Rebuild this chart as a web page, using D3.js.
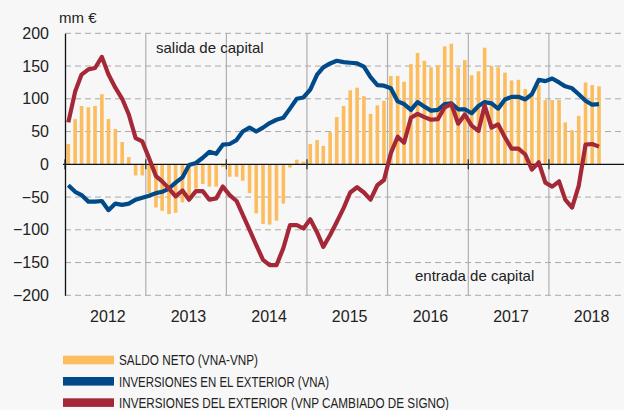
<!DOCTYPE html>
<html>
<head>
<meta charset="utf-8">
<script src="https://cdn.jsdelivr.net/npm/d3@7"></script>
<style>
    body { margin: 0; background: #f7f7f7; }
    svg { display: block; font-family: "Liberation Sans", Arial, sans-serif; }
</style>
</head>
<body>
<div id="chart"></div>
<script>
// Data, mm €, monthly from Jan 2012
const years = [2012, 2013, 2014, 2015, 2016, 2017, 2018];
const yTicks = [200, 150, 100, 50, 0, -50, -100, -150, -200];

const saldoNeto = [
    31, 69, 89, 87, 89, 107, 69, 54, 34, 11, -17, -17,
    -44, -66, -71, -76, -74, -58, -52, -37, -30, -34, -34, -4,
    -19, -19, -25, -44, -75, -91, -92, -86, -60, -5, 7, 4,
    31, 37, 28, 49, 72, 89, 113, 117, 104, 77, 90, 97,
    135, 135, 126, 153, 170, 158, 148, 151, 180, 184, 148, 159,
    136, 142, 178, 150, 148, 140, 128, 129, 115, 105, 121, 98,
    98, 98, 64, 52, 74, 125, 121, 119
];
const vna = [
    -32, -42, -47, -57, -57, -56, -70, -60, -62, -60, -54, -51,
    -48, -44, -42, -37, -28, -20, -1, 2, 10, 19, 16, 30,
    31, 37, 50, 56, 50, 56, 63, 68, 71, 85, 100, 102,
    114, 137, 148, 154, 158, 156, 155, 154, 149, 133, 121, 120,
    116, 96, 92, 83, 95, 88, 82, 83, 92, 93, 84, 84,
    78, 89, 95, 93, 85, 99, 103, 103, 99, 107, 129, 127,
    131, 125, 119, 116, 107, 97, 91, 92
];
const vnp = [
    64, 111, 137, 145, 147, 164, 137, 117, 100, 76, 40, 35,
    9, -18, -26, -37, -49, -40, -54, -41, -41, -54, -52, -34,
    -47, -56, -77, -100, -123, -146, -154, -154, -128, -93, -93, -98,
    -84, -104, -126, -108, -88, -67, -43, -35, -43, -54, -32, -24,
    17, 42, 33, 71, 77, 72, 68, 69, 87, 92, 62, 76,
    59, 51, 90, 56, 61, 41, 24, 24, 15, -8, 3, -28,
    -34, -26, -54, -66, -33, 30, 31, 27
];

const legendLabels = [
    'SALDO NETO (VNA-VNP)',
    'INVERSIONES EN EL EXTERIOR (VNA)',
    'INVERSIONES DEL EXTERIOR  (VNP CAMBIADO DE SIGNO)'
];
const legendColors = ['#fbbd5e', '#004a8a', '#a52838'];
const legendTextWidths = [139, 210, 330];

const width = 624, height = 410;
const margin = {left: 65, right: 622, top: 33.3, bottom: 295.3};

const svg = d3.select('#chart').append('svg')
    .attr('width', width)
    .attr('height', height);

const x = d3.scaleTime()
    .domain([new Date(2012, 0, 1), new Date(2019, 0, 1)])
    .range([margin.left, margin.left + 84 * 6.72]);
const y = d3.scaleLinear().domain([-200, 200]).range([margin.bottom, margin.top]);

const monthMid = i => x(new Date(2012, i, 16));

// dashed grid
svg.append('g')
    .selectAll('line')
    .data(yTicks.filter(d => d !== 0))
    .join('line')
    .attr('x1', margin.left).attr('x2', margin.right)
    .attr('y1', d => y(d)).attr('y2', d => y(d))
    .attr('stroke', '#a8a8a8')
    .attr('stroke-width', 1)
    .attr('stroke-dasharray', '6,4');

// year separators
svg.append('g')
    .selectAll('line')
    .data(years.slice(1))
    .join('line')
    .attr('x1', d => x(new Date(d, 0, 1))).attr('x2', d => x(new Date(d, 0, 1)))
    .attr('y1', margin.top).attr('y2', margin.bottom)
    .attr('stroke', '#b0b0b0')
    .attr('stroke-width', 1.2);

// bars
svg.append('g')
    .selectAll('rect')
    .data(saldoNeto)
    .join('rect')
    .attr('x', (d, i) => monthMid(i) - 1.8)
    .attr('width', 3.6)
    .attr('y', d => y(Math.max(0, d)))
    .attr('height', d => Math.abs(y(d) - y(0)))
    .attr('fill', legendColors[0]);

// zero line + year ticks
svg.append('line')
    .attr('x1', margin.left - 2).attr('x2', width)
    .attr('y1', y(0)).attr('y2', y(0))
    .attr('stroke', '#111').attr('stroke-width', 1.3);
svg.append('g')
    .selectAll('line')
    .data(years)
    .join('line')
    .attr('x1', d => x(new Date(d, 0, 1))).attr('x2', d => x(new Date(d, 0, 1)))
    .attr('y1', y(0) - 5).attr('y2', y(0) + 5)
    .attr('stroke', '#333').attr('stroke-width', 1.3);

// y axis
const yAxis = svg.append('g')
    .attr('transform', `translate(${margin.left},0)`)
    .call(d3.axisLeft(y).tickValues(yTicks).tickSize(0).tickPadding(16));
yAxis.select('.domain').attr('stroke', '#111').attr('stroke-width', 1.3);
yAxis.selectAll('text').attr('font-size', 16).attr('fill', '#222')
    .attr('font-family', '"Liberation Sans", Arial, sans-serif');

// x axis year labels
const xAxis = svg.append('g')
    .attr('transform', `translate(2,${margin.bottom})`)
    .call(d3.axisBottom(x)
        .tickValues(years.map(d => new Date(d, 6, 2)))
        .tickFormat(d3.timeFormat('%Y'))
        .tickSize(0).tickPadding(15));
xAxis.select('.domain').remove();
xAxis.selectAll('text').attr('font-size', 16).attr('fill', '#222')
    .attr('font-family', '"Liberation Sans", Arial, sans-serif');

// lines
const line = d3.line().x((d, i) => monthMid(i)).y(d => y(d));
svg.append('path')
    .datum(vna)
    .attr('d', line)
    .attr('fill', 'none')
    .attr('stroke', legendColors[1])
    .attr('stroke-width', 4.2)
    .attr('stroke-linejoin', 'round');
svg.append('path')
    .datum(vnp)
    .attr('d', line)
    .attr('fill', 'none')
    .attr('stroke', legendColors[2])
    .attr('stroke-width', 4.2)
    .attr('stroke-linejoin', 'round');

// annotations
svg.append('text').attr('x', 59).attr('y', 23).text('mm €')
    .attr('font-size', 15).attr('fill', '#222');
svg.append('text').attr('x', 156).attr('y', 53).text('salida de capital')
    .attr('font-size', 15).attr('fill', '#222');
svg.append('text').attr('x', 415).attr('y', 281).text('entrada de capital')
    .attr('font-size', 15).attr('fill', '#222');

// legend
const legend = svg.append('g')
    .selectAll('g')
    .data(legendLabels)
    .join('g')
    .attr('transform', (d, i) => `translate(63,${360 + i * 21.3})`);
legend.append('rect')
    .attr('x', 0).attr('y', -4.3)
    .attr('width', 51).attr('height', 8.6)
    .attr('fill', (d, i) => legendColors[i]);
legend.append('text')
    .attr('x', 56).attr('y', 5.2)
    .attr('font-family', '"Liberation Sans Narrow", "Arial Narrow", sans-serif')
    .attr('font-size', 14.5)
    .attr('fill', '#222')
    .attr('textLength', (d, i) => legendTextWidths[i])
    .attr('lengthAdjust', 'spacingAndGlyphs')
    .text(d => d);
</script>
</body>
</html>
